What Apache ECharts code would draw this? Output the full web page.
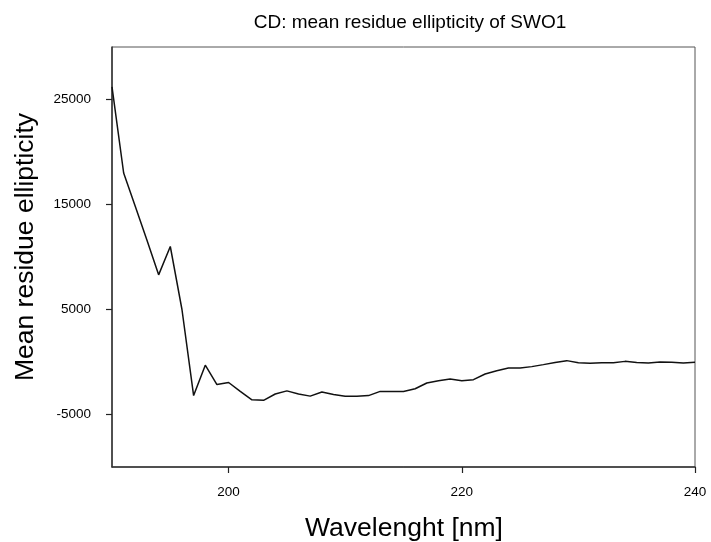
<!DOCTYPE html>
<html>
<head>
<meta charset="utf-8">
<script src="https://cdn.jsdelivr.net/npm/echarts@6/dist/echarts.min.js"></script>
<style>html,body{margin:0;padding:0;background:#fff}#c{width:711px;height:542px}</style>
</head>
<body>
<div id="c"></div>
<script>
const wavelengths = [190,191,192,193,194,195,196,197,198,199,200,201,202,203,204,205,206,207,208,209,210,211,212,213,214,215,216,217,218,219,220,221,222,223,224,225,226,227,228,229,230,231,232,233,234,235,236,237,238,239,240];
const ellipticity = [26200,18000,14800,11600,8300,11000,5000,-3200,-300,-2150,-1950,-2800,-3600,-3650,-3050,-2750,-3050,-3250,-2850,-3100,-3270,-3270,-3200,-2800,-2800,-2800,-2550,-2000,-1780,-1620,-1780,-1680,-1140,-830,-570,-570,-440,-250,-50,130,-70,-130,-70,-70,60,-40,-100,0,-30,-100,-30];
const xTicks = [200,220,240];
const yTicks = [-5000,5000,15000,25000];
const titleText = 'CD: mean residue ellipticity of SWO1';
const xName = 'Wavelenght [nm]';
const yName = 'Mean residue ellipticity';

const font = 'Liberation Sans, Arial, sans-serif';
const chart = echarts.init(document.getElementById('c'), null, {renderer:'canvas'});
chart.setOption({
  animation:false,
  backgroundColor:'#fff',
  title:{text:titleText,left:405,textAlign:'center',top:8,textStyle:{fontFamily:font,fontSize:19,fontWeight:'normal',color:'#000'}},
  graphic:[{type:'text',x:26,y:247,rotation:Math.PI/2,
    style:{text:yName,fontFamily:font,fontSize:26.5,fill:'#000',textAlign:'center',textVerticalAlign:'middle'}},
    {type:'text',x:404,y:529,
    style:{text:xName,fontFamily:font,fontSize:26.5,fill:'#000',textAlign:'center',textVerticalAlign:'middle'}}],
  grid:{left:112,right:16,top:47,bottom:75,show:true,borderColor:'#555',borderWidth:1,containLabel:false,outerBoundsMode:'none'},
  xAxis:{type:'value',min:190,max:240,
    axisLine:{show:true,onZero:false,lineStyle:{color:'#333',width:1.5}},
    axisTick:{show:true,length:6,customValues:xTicks,lineStyle:{color:'#222',width:1.2}},
    axisLabel:{customValues:xTicks,fontFamily:font,fontSize:13.5,color:'#000',margin:18,formatter:v=>String(v)},
    splitLine:{show:false}},
  yAxis:{type:'value',min:-10000,max:30000,
    axisLine:{show:true,onZero:false,lineStyle:{color:'#333',width:1.5}},
    axisTick:{show:true,length:6,customValues:yTicks,lineStyle:{color:'#222',width:1.2}},
    axisLabel:{customValues:yTicks,fontFamily:font,fontSize:13.5,color:'#000',margin:21,formatter:v=>String(v)},
    splitLine:{show:false}},
  series:[{type:'line',data:wavelengths.map((w,i)=>[w,ellipticity[i]]),showSymbol:false,
    lineStyle:{color:'#111',width:1.5},z:3}]
});
</script>
</body>
</html>
